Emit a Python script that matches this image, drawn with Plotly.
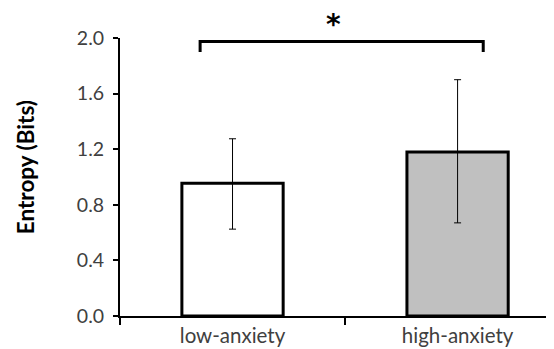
import plotly.graph_objects as go

categories = ["low-anxiety", "high-anxiety"]
means = [0.955, 1.18]
err_plus = [0.32, 0.52]
err_minus = [0.33, 0.51]
bar_colors = ["#ffffff", "#c0c0c0"]
y_ticks = [0.0, 0.4, 0.8, 1.2, 1.6, 2.0]
y_ticklabels = ["0.0", "0.4", "0.8", "1.2", "1.6", "2.0"]
y_title = "Entropy (Bits)"
sig_label = "*"

FONT = "Lato"

fig = go.Figure()
fig.add_trace(go.Bar(
    x=categories, y=means,
    width=0.45,
    marker=dict(color=bar_colors, line=dict(color="#000000", width=3)),
    error_y=dict(type="data", symmetric=False, array=err_plus, arrayminus=err_minus,
                 color="#000000", thickness=1, width=3.5),
))

# significance bracket
fig.add_shape(type="path",
              path="M -0.144,1.90 L -0.144,1.975 L 1.114,1.975 L 1.114,1.90",
              xref="x", yref="y", line=dict(color="#000000", width=3))
fig.add_annotation(x=0.45, y=1.05, xref="x", yref="paper", text="<b>" + sig_label + "</b>",
                   showarrow=False,
                   font=dict(family="DejaVu Sans", size=28, color="#000000"), yanchor="middle")
fig.add_annotation(x=-0.215, y=0.535, xref="paper", yref="paper", text="<b>" + y_title + "</b>",
                   textangle=-90, showarrow=False, xanchor="center", yanchor="middle",
                   font=dict(family=FONT, size=22.5, color="#000000"))

fig.update_layout(
    width=554, height=349,
    margin=dict(l=112, r=0, t=30, b=41),
    paper_bgcolor="white", plot_bgcolor="white",
    showlegend=False,
    font=dict(family=FONT, color="#404040"),
    xaxis=dict(range=[-0.5, 1.464], showline=True, linecolor="#000000", linewidth=2,
               ticks="outside", tickson="boundaries", ticklen=7, tickwidth=2, tickcolor="#000000",
               showgrid=False, zeroline=False, automargin=False,
               tickfont=dict(family=FONT, size=20.5, color="#404040")),
    yaxis=dict(range=[0, 2.0], tickvals=y_ticks, ticktext=y_ticklabels,
               showline=True, linecolor="#000000", linewidth=2,
               ticks="outside", ticklen=5, tickwidth=2, tickcolor="#000000",
               showgrid=False, zeroline=False, automargin=False, ticklabelstandoff=5,
               tickfont=dict(family=FONT, size=19.5, color="#404040")),
)

fig.write_html("out.html")
